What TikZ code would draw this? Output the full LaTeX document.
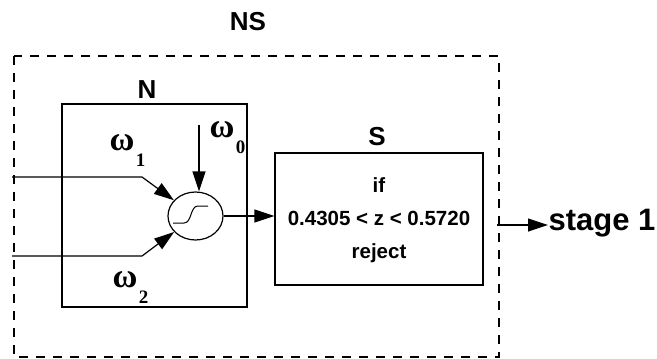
\documentclass[tikz,border=0pt]{standalone}
\usepackage{fontspec}
\setmainfont{Liberation Sans}
\newfontfamily\wfont{Liberation Serif}
\usetikzlibrary{arrows.meta,shapes.geometric}
\newcommand{\wsub}[1]{{\wfont\bfseries\fontsize{34}{34}\selectfont ω}\hspace{1.5pt}\raisebox{-16pt}{\wfont\bfseries\fontsize{19}{19}\selectfont #1}}

\begin{document}
\begin{tikzpicture}[x=1pt,y=-1pt,line width=1.2pt,
    box/.style={draw,rectangle,inner sep=0pt},
    arr/.style={-{Triangle[length=20pt,width=13pt]}},
    tag/.style={font=\bfseries\fontsize{26}{26}\selectfont}]
  \useasboundingbox (0,0) rectangle (657,359);
  \draw[dash pattern=on 9pt off 8pt] (14,56) rectangle (499,357);
  \node[tag] (nslabel) at (248,22) {NS};
  \node[box,minimum width=185pt,minimum height=203pt] (nbox) at (154.5,205.5) {};
  \node[tag] (nlabel) at (147,90) {N};
  \node[box,minimum width=208pt,minimum height=132pt] (sbox) at (379,219) {};
  \node[align=center,font=\bfseries\fontsize{20.5}{33}\selectfont] (stext) at (379,220) {if\\0.4305 < z < 0.5720\\reject};
  \node[tag] (slabel) at (377,137) {S};
  \node[draw,ellipse,minimum width=55pt,minimum height=48pt,inner sep=0pt] (neuron) at (195.5,216) {};
  \draw[line width=1pt] (173,223) -- (184,223) .. controls (192,223) and (190,206) .. (198,206) -- (208,206);
  % inputs and weights
  \coordinate (in1) at (12,177); \coordinate (b1) at (142,177);
  \coordinate (in2) at (12,256); \coordinate (b2) at (142,256);
  \coordinate (w0top) at (199,125);
  \draw[arr] (in1) -- (b1) -- (neuron);
  \draw[arr] (in2) -- (b2) -- (neuron);
  \draw[arr] (w0top) -- (w0top |- neuron.north);
  \node[anchor=base west,inner sep=0pt] (w1) at (109,150) {\wsub{1}};
  \node[anchor=base west,inner sep=0pt] (w0) at (209,137) {\wsub{0}};
  \node[anchor=base west,inner sep=0pt] (w2) at (112,287) {\wsub{2}};
  % output
  \draw[arr] (neuron.east) -- (neuron.east -| sbox.west);
  \node[anchor=west,inner sep=0pt,font=\bfseries\fontsize{31}{31}\selectfont] (stage) at (548,223) {stage 1};
  \coordinate (sout) at (497,225);
  \draw[arr] (sout) -- (sout -| stage.west);
\end{tikzpicture}
\end{document}
